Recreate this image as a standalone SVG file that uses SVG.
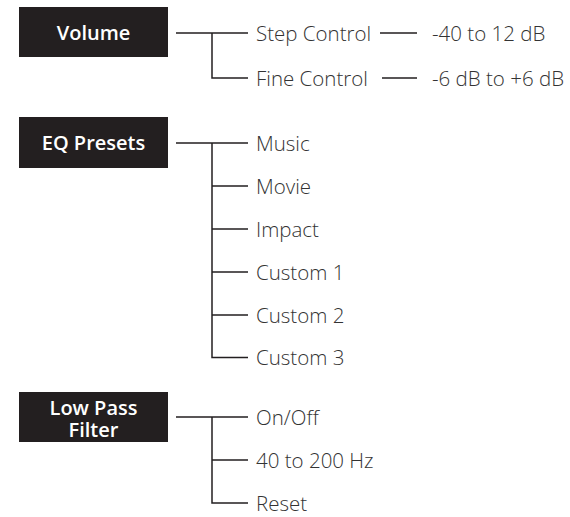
<svg xmlns="http://www.w3.org/2000/svg" width="570" height="517" viewBox="0 0 570 517">
<style>
.box{fill:#231f20}
.bl{font-family:"Open Sans","Liberation Sans",sans-serif;font-weight:600;font-size:20px;fill:#fff;text-anchor:middle}
.lb{font-family:"Open Sans","Liberation Sans",sans-serif;font-weight:300;font-size:20.5px;fill:#333}
.c{stroke:#231f20;stroke-width:1.5;fill:none}
</style>
<rect width="570" height="517" fill="#fff"/>
<g id="volume"><rect class="box" x="19" y="7" width="149" height="50"/><text class="bl" x="93.5" y="40">Volume</text></g>
<g id="eq"><rect class="box" x="19" y="117" width="149" height="51"/><text class="bl" x="93.5" y="150">EQ Presets</text></g>
<g id="lpf"><rect class="box" x="19" y="392" width="149" height="50"/><text class="bl" x="93.5" y="415"><tspan x="93.5" y="415">Low Pass</tspan><tspan x="93.5" y="437">Filter</tspan></text></g>
<g id="step"><text class="lb" x="256" y="40.5">Step Control</text></g>
<g id="step-range"><text class="lb" x="432" y="40.5">-40 to 12 dB</text></g>
<g id="fine"><text class="lb" x="256" y="85.5">Fine Control</text></g>
<g id="fine-range"><text class="lb" x="432" y="85.5">-6 dB to +6 dB</text></g>
<g id="music"><text class="lb" x="256" y="150.5">Music</text></g>
<g id="movie"><text class="lb" x="256" y="193.5">Movie</text></g>
<g id="impact"><text class="lb" x="256" y="236.5">Impact</text></g>
<g id="custom1"><text class="lb" x="256" y="279.5">Custom 1</text></g>
<g id="custom2"><text class="lb" x="256" y="322.5">Custom 2</text></g>
<g id="custom3"><text class="lb" x="256" y="365">Custom 3</text></g>
<g id="onoff"><text class="lb" x="256" y="424.5">On/Off</text></g>
<g id="hz"><text class="lb" x="256" y="467.5">40 to 200 Hz</text></g>
<g id="reset"><text class="lb" x="256" y="510.5">Reset</text></g>
<g id="connectors">
<path class="c" d="M176 33H248M212 33V78H248"/>
<path class="c" d="M380 33H417M382 78H417"/>
<path class="c" d="M176 143H248M212 143V357.5H248M212 186H248M212 229H248M212 272H248M212 315H248"/>
<path class="c" d="M176 417H248M212 417V503H248M212 460H248"/>
</g>
</svg>
